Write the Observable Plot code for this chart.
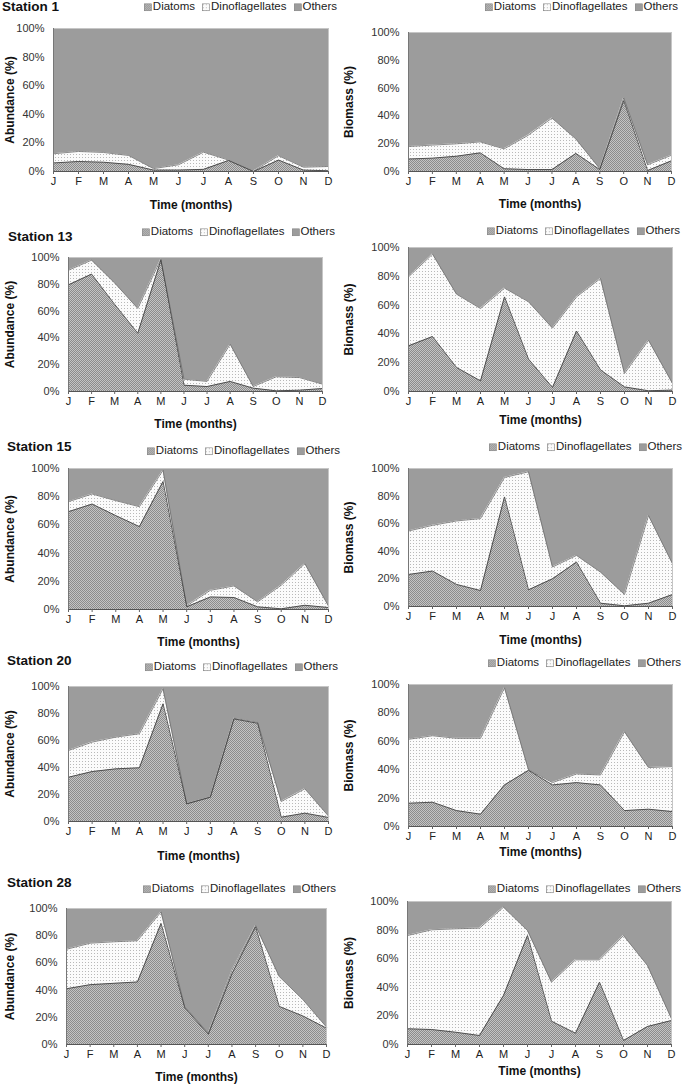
<!DOCTYPE html>
<html><head><meta charset="utf-8">
<script src="https://cdn.jsdelivr.net/npm/d3@7"></script>
<script src="https://cdn.jsdelivr.net/npm/@observablehq/plot@0.6"></script>
<style>
body{margin:0;background:#fff;font-family:"Liberation Sans",Arial,sans-serif;}
#page{position:relative;width:685px;height:1088px;overflow:hidden;background:#fff;}
.title{position:absolute;font-weight:bold;font-size:13.5px;color:#111;white-space:nowrap;transform:translateY(-50%);line-height:1;}
.legend{position:absolute;display:flex;align-items:center;font-size:11.5px;color:#222;white-space:nowrap;transform:translate(-100%,-50%);line-height:1;}
.legend .item{display:flex;align-items:center;margin-left:7px;}
.legend svg{margin-right:1px;}
.plotwrap{position:absolute;}
.plotwrap svg{overflow:visible;}
</style>
</head><body>
<svg width="0" height="0" style="position:absolute">
<defs>
<pattern id="pDia" width="2" height="2" patternUnits="userSpaceOnUse">
<rect width="2" height="2" fill="#c4c4c4"/>
<rect width="1" height="1" fill="#8c8c8c"/>
<rect x="1" y="1" width="1" height="1" fill="#8c8c8c"/>
</pattern>
<pattern id="pDino" width="3" height="3" patternUnits="userSpaceOnUse">
<rect width="3" height="3" fill="#fbfbfb"/>
<rect x="1" y="1" width="1" height="1" fill="#b8b8b8"/>
</pattern>
</defs>
</svg>
<div id="page"></div>
<script>
const months = ["J","F","M","A","M","J","J","A","S","O","N","D"];
const stations = ["Station 1","Station 13","Station 15","Station 20","Station 28"];
const groups = ["Diatoms","Dinoflagellates","Others"];
const yTicks = [0,20,40,60,80,100];

const s1AbundanceDiatoms = [6, 7, 6.5, 5, 1, 1, 1.5, 7.7, 0, 8, 1, 0.5];
const s1AbundanceDino    = [6.4, 7, 6.8, 6.2, 1, 3.7, 12, 0.3, 0.3, 3, 2, 3];
const s1BiomassDiatoms   = [9, 9.6, 11, 13.4, 2, 1.4, 1.4, 13, 1.4, 51, 0.7, 7.7];
const s1BiomassDino      = [9, 9.4, 8.9, 7.9, 14.3, 24.6, 37, 10.4, 0.6, 2, 4.1, 4];

const s13AbundanceDiatoms = [79.6, 87.6, 65, 43.5, 98, 4.7, 3.7, 7.5, 2.5, 0.5, 1, 2.2];
const s13AbundanceDino    = [10.9, 10.4, 16, 18.5, 0.8, 4.5, 3.8, 27.8, 1.2, 10.5, 9.4, 3.3];
const s13BiomassDiatoms   = [31.7, 38.2, 16.7, 7.4, 65.7, 22.5, 2.8, 42, 15, 3.2, 0.5, 1];
const s13BiomassDino      = [47.9, 57.2, 50.9, 50.2, 6.1, 39.8, 41.2, 23.7, 63.5, 9.3, 35.1, 4.6];

const s15AbundanceDiatoms = [69.4, 74.8, 66.6, 58.8, 90.8, 1.9, 8.9, 8.5, 1.9, 0.5, 3, 1.4];
const s15AbundanceDino    = [7.1, 7.1, 10.6, 14.1, 8, 0.7, 4.7, 8.2, 3.5, 16.7, 29.5, 1];
const s15BiomassDiatoms   = [23.2, 25.7, 16, 11.6, 79.4, 12.1, 20.1, 32.2, 2.4, 0.5, 2.4, 8.7];
const s15BiomassDino      = [31.5, 33.1, 46, 52.1, 14.1, 85.5, 8.5, 4.8, 22.5, 8.2, 63.5, 22.3];

const s20AbundanceDiatoms = [32.8, 37, 39, 39.8, 87.2, 13.1, 18, 76, 72.8, 3.2, 6.2, 3];
const s20AbundanceDino    = [19.8, 21.8, 23.5, 25.2, 11.1, 0, 0, 0.5, 0.8, 11.6, 18, 1];
const s20BiomassDiatoms   = [16.4, 17.1, 11.2, 8.7, 29.3, 39.6, 29.3, 30.9, 29.3, 11.2, 12.2, 10.5];
const s20BiomassDino      = [45, 46.8, 50.9, 53.4, 68.4, 0.4, 1.6, 6.1, 7, 55.5, 29.3, 31.7];

const s28AbundanceDiatoms = [41, 44, 45, 46, 89, 27, 7.5, 52, 86.5, 28, 21, 12];
const s28AbundanceDino    = [29, 30.5, 30.5, 30.3, 8.5, 0.8, 0.8, 2.5, 1, 22, 12, 0.8];
const s28BiomassDiatoms   = [11, 10.5, 8.6, 6.3, 34.3, 76.2, 16.3, 7.9, 43.6, 2.8, 12.6, 16.8];
const s28BiomassDino      = [65.2, 69.7, 72.3, 75.1, 61.7, 3.5, 27.3, 51.3, 15.6, 73.4, 42.6, 1.2];

const series = [
  [s1AbundanceDiatoms, s1AbundanceDino], [s1BiomassDiatoms, s1BiomassDino],
  [s13AbundanceDiatoms, s13AbundanceDino], [s13BiomassDiatoms, s13BiomassDino],
  [s15AbundanceDiatoms, s15AbundanceDino], [s15BiomassDiatoms, s15BiomassDino],
  [s20AbundanceDiatoms, s20AbundanceDino], [s20BiomassDiatoms, s20BiomassDino],
  [s28AbundanceDiatoms, s28AbundanceDino], [s28BiomassDiatoms, s28BiomassDino]
];

// layout (positions only)
const layout = [
  {col:0, x0:53, x1:328, top:28, bot:171, xlab:34, ylab:10, legR:337, legY:7, tX:2, tY:7},
  {col:1, x0:408, x1:671, top:32, bot:171, xlab:33, ylab:349, legR:678, legY:7},
  {col:0, x0:68, x1:322, top:257, bot:391, xlab:33, ylab:10, legR:335, legY:232, tX:8, tY:237},
  {col:1, x0:408, x1:672, top:247, bot:391, xlab:29, ylab:349, legR:680, legY:231},
  {col:0, x0:68, x1:328, top:468, bot:609, xlab:33, ylab:10, legR:340, legY:451, tX:7, tY:447},
  {col:1, x0:408, x1:672, top:468, bot:606, xlab:34, ylab:349, legR:682, legY:447},
  {col:0, x0:68, x1:328, top:686, bot:821, xlab:35, ylab:10, legR:338, legY:667, tX:7, tY:661},
  {col:1, x0:408, x1:672, top:684, bot:826, xlab:26, ylab:349, legR:681, legY:663},
  {col:0, x0:66, x1:326, top:908, bot:1044, xlab:33, ylab:10, legR:336, legY:889, tX:7, tY:883},
  {col:1, x0:407, x1:671, top:901, bot:1044, xlab:27, ylab:349, legR:681, legY:889}
];

const page = document.getElementById("page");
const swatchFill = {"Diatoms":"url(#pDia)","Dinoflagellates":"url(#pDino)","Others":"#9c9c9c"};

layout.forEach((L, k) => {
  const [dia, dino] = series[k];
  const metric = L.col === 0 ? "Abundance (%)" : "Biomass (%)";
  const rows = [];
  months.forEach((m, i) => {
    rows.push({x:i, group:"Diatoms", v:dia[i]});
    rows.push({x:i, group:"Dinoflagellates", v:dino[i]});
    rows.push({x:i, group:"Others", v:Math.max(0, 100 - dia[i] - dino[i])});
  });
  const diaLine = months.map((m,i) => ({x:i, v:dia[i]}));
  const totLine = months.map((m,i) => ({x:i, v:dia[i] + dino[i]}));

  const colLeft = L.col === 0 ? 0 : 340;
  const colRight = L.col === 0 ? 340 : 685;
  const mt = 4, mb = 45;
  const ml = L.x0 - colLeft, mr = colRight - L.x1;
  const chart = Plot.plot({
    width: colRight - colLeft,
    height: (L.bot - L.top) + mt + mb,
    marginLeft: ml, marginRight: mr, marginTop: mt, marginBottom: mb,
    x: {domain:[0,11]},
    y: {domain:[0,100]},
    color: {domain: groups, range: ["url(#pDia)","url(#pDino)","#9c9c9c"]},
    style: {fontFamily:'"Liberation Sans", Arial, sans-serif', fontSize:"11px", color:"#222", background:"transparent"},
    marks: [
      Plot.areaY(rows, {x:"x", y:"v", z:"group", fill:"group", order: groups, curve:"linear"}),
      Plot.lineY(totLine, {x:"x", y:"v", stroke:"#6e6e6e", strokeWidth:0.8}),
      Plot.lineY(diaLine, {x:"x", y:"v", stroke:"#444", strokeWidth:0.9}),
      Plot.frame({stroke:"#c6c6c6", strokeWidth:1}),
      Plot.ruleX([0], {stroke:"#777", strokeWidth:1}),
      Plot.ruleY([0], {stroke:"#555", strokeWidth:1}),
      Plot.axisY({ticks: yTicks, tickFormat: d => d + "%", tickSize: 0, tickPadding: 9, label: null, fill:"#333"}),
      Plot.axisX({ticks: d3.range(12), tickFormat: i => months[i], tickSize: 3, tickPadding: 3, label: null, stroke:"#666", fill:"#222"}),
      Plot.text([ "Time (months)" ], {text: d => d, frameAnchor:"bottom", lineAnchor:"middle", dy: L.xlab, fontWeight:"bold", fontSize:12, fill:"#111"}),
      Plot.text([ metric ], {text: d => d, frameAnchor:"left", lineAnchor:"middle", textAnchor:"middle", rotate:-90, dx: L.ylab - L.x0, fontWeight:"bold", fontSize:12, fill:"#111"})
    ]
  });
  const wrap = document.createElement("div");
  wrap.className = "plotwrap";
  wrap.style.left = colLeft + "px";
  wrap.style.top = (L.top - mt) + "px";
  wrap.appendChild(chart);
  page.appendChild(wrap);

  if (L.tX !== undefined) {
    const t = document.createElement("div");
    t.className = "title";
    t.style.left = L.tX + "px";
    t.style.top = L.tY + "px";
    t.textContent = stations[k / 2];
    page.appendChild(t);
  }
  const leg = document.createElement("div");
  leg.className = "legend";
  leg.style.left = L.legR + "px";
  leg.style.top = L.legY + "px";
  groups.forEach((g, gi) => {
    const it = document.createElement("span");
    it.className = "item";
    if (gi === 0) it.style.marginLeft = "0";
    it.innerHTML = `<svg width="8" height="8"><rect x="0.5" y="0.5" width="7" height="7" fill="${swatchFill[g]}" stroke="#808080" stroke-width="0.7"/></svg><span>${g}</span>`;
    leg.appendChild(it);
  });
  page.appendChild(leg);
});
</script>
</body></html>
